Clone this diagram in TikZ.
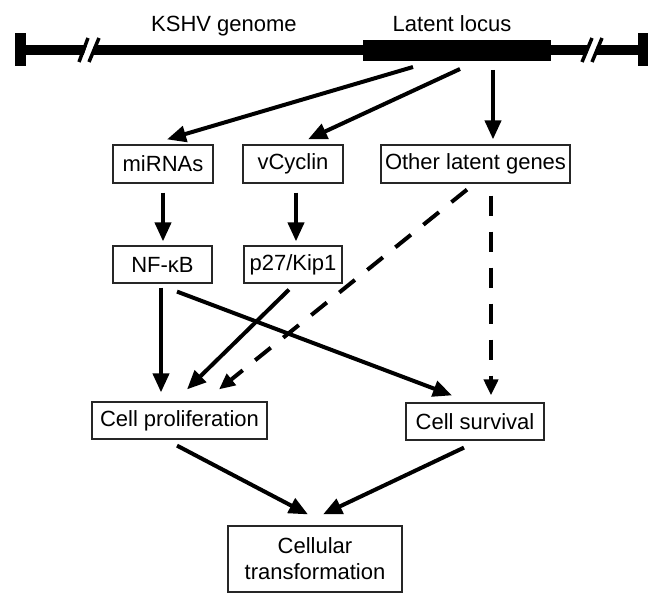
\documentclass[tikz,border=0pt]{standalone}
\usepackage{fontspec}
\setmainfont{Liberation Sans}
\usetikzlibrary{arrows.meta}
\begin{document}
\begin{tikzpicture}[x=1pt,y=-1pt,
  every node/.style={font=\fontsize{22}{26}\selectfont},
  box/.style={draw=black!85,line width=1.2pt,rectangle,inner sep=0pt,align=center},
  arr/.style={line width=4pt,-{Triangle[length=19pt,width=16pt]}},
  darr/.style={line width=4pt,dash pattern=on 20pt off 16pt,-{Triangle[length=16pt,width=14pt]}}]
\useasboundingbox (0,0) rectangle (666,609);
% genome line
\fill (21,45) rectangle (643,55);
\fill (363,40) rectangle (551,61);
\fill (15,33) rectangle (26,66);
\fill (638,33) rectangle (648,66);
% break marks
\fill[white] (81,63) -- (90,37) -- (97,37) -- (88,63) -- cycle;
\fill[white] (584,63) -- (593,37) -- (600,37) -- (591,63) -- cycle;
\draw[line width=3.5pt] (79,62) -- (88,38) (89,62) -- (99,38);
\draw[line width=3.5pt] (582,62) -- (592,38) (592,62) -- (602,38);
\node[anchor=base] (kshv) at (224,32) {KSHV genome};
\node[anchor=base] (locus) at (452,32) {Latent locus};
\coordinate (s1) at (413,67);
\coordinate (s2) at (460,69);
\coordinate (s3) at (493,70);
% boxes
\node[box,minimum width=100pt,minimum height=38pt] (mir) at (163,164) {miRNAs};
\node[box,minimum width=100pt,minimum height=38pt] (vcy) at (293,164) {vCyclin};
\node[box,minimum width=189pt,minimum height=38pt] (oth) at (475.5,164) {Other latent genes};
\node[box,minimum width=99pt,minimum height=37pt] (nfk) at (162.5,264.5) {NF-κB};
\node[box,minimum width=98pt,minimum height=37pt] (p27) at (293,264.5) {p27/Kip1};
\node[box,minimum width=175pt,minimum height=37pt] (cpr) at (179.5,420.5) {Cell proliferation};
\node[box,minimum width=138pt,minimum height=37pt] (csu) at (475,421.5) {Cell survival};
\node[box,minimum width=174pt,minimum height=66pt] (ctr) at (315,559) {Cellular\\transformation};
% arrows
\draw[arr] (s1) -- ([shift={(4,-5)}]mir.north);
\draw[arr] (s2) -- ([shift={(15,-5)}]vcy.north);
\draw[arr] (s3) -- ([shift={(17.5,-5)}]oth.north);
\draw[arr] ([shift={(0,9)}]mir.south) -- ([shift={(0.5,-4)}]nfk.north);
\draw[arr] ([shift={(3,9)}]vcy.south) -- ([shift={(3,-4)}]p27.north);
\draw[darr] ([shift={(-8.5,6)}]oth.south) -- ([shift={(39.5,-12)}]cpr.north);
\draw[darr] ([shift={(15.5,12)}]oth.south) -- ([shift={(16,-7)}]csu.north);
\draw[arr] ([shift={(-1.5,4)}]nfk.south) -- ([shift={(-18.5,-9)}]cpr.north);
\draw[arr] ([shift={(-4,6)}]p27.south) -- ([shift={(7.5,-12)}]cpr.north);
\draw[arr] ([shift={(14.5,8)}]nfk.south) -- ([shift={(-23,-7)}]csu.north);
\draw[arr] ([shift={(-2.5,6)}]cpr.south) -- ([shift={(-7,-11)}]ctr.north);
\draw[arr] ([shift={(-11,7)}]csu.south) -- ([shift={(8,-11)}]ctr.north);
\end{tikzpicture}
\end{document}
